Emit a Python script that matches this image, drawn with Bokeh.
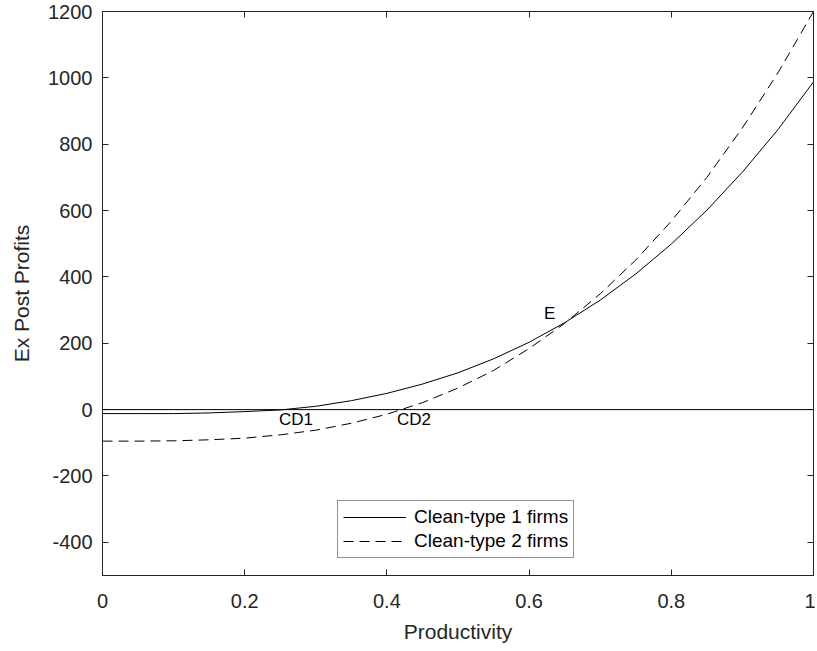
from bokeh.plotting import figure
from bokeh.models import (LinearAxis, FixedTicker, Legend, LegendItem, Range1d,
                          Span, ColumnDataSource, LabelSet)
from bokeh.core.properties import value
from bokeh.embed import file_html
from bokeh.resources import INLINE

# ---- data ----
productivity = [0.0, 0.05, 0.1, 0.15, 0.2, 0.25, 0.3, 0.35, 0.4, 0.45, 0.5,
                0.55, 0.6, 0.65, 0.7, 0.75, 0.8, 0.85, 0.9, 0.95, 1.0]
profits_type1 = [-12, -12, -12, -10, -6, -1, 10, 27, 49, 77, 111,
                 153, 203, 262, 330, 409, 499, 601, 716, 844, 988]
profits_type2 = [-95, -95, -94, -91, -86, -76, -62, -41, -14, 21, 65,
                 118, 184, 260, 349, 451, 568, 700, 849, 1015, 1200]
series_names = ["Clean-type 1 firms", "Clean-type 2 firms"]

x_ticks = [0, 0.2, 0.4, 0.6, 0.8, 1]
x_tick_labels = ["0", "0.2", "0.4", "0.6", "0.8", "1"]
y_ticks = [-400, -200, 0, 200, 400, 600, 800, 1000, 1200]
y_tick_labels = ["-400", "-200", "0", "200", "400", "600", "800", "1000", "1200"]

annot_text = ["E", "CD1", "CD2"]
annot_x = [0.629, 0.272, 0.438]
annot_y = [289, -30, -30]

FONT = "Liberation Sans"
AX = "#262626"

p = figure(frame_width=711, frame_height=564,
           x_range=Range1d(0, 1), y_range=Range1d(-500, 1200),
           output_backend="svg", toolbar_location=None,
           min_border_left=102, min_border_top=11, min_border_right=2,
           min_border_bottom=70, background_fill_color="white",
           border_fill_color="white", outline_line_color=AX)
p.grid.visible = False


def style_axis(ax, labels=True):
    ax.axis_line_color = AX
    ax.axis_line_width = 1
    ax.major_tick_line_color = AX
    ax.major_tick_in = 6
    ax.major_tick_out = 0
    ax.minor_tick_line_color = None
    ax.major_label_text_font = FONT
    ax.major_label_text_color = AX
    ax.axis_label_text_font = FONT
    ax.axis_label_text_color = AX
    ax.axis_label_text_font_style = "normal"
    if not labels:
        ax.major_label_text_color = None
        ax.major_label_text_font_size = "1px"
        ax.major_label_standoff = 0


xa = p.xaxis[0]
ya = p.yaxis[0]
style_axis(xa)
style_axis(ya)
xa.ticker = FixedTicker(ticks=x_ticks)
xa.major_label_overrides = {t: l for t, l in zip(x_ticks, x_tick_labels)}
ya.ticker = FixedTicker(ticks=y_ticks)
ya.major_label_overrides = {t: l for t, l in zip(y_ticks, y_tick_labels)}
xa.major_label_text_font_size = "20px"
ya.major_label_text_font_size = "20px"
xa.major_label_standoff = 18
ya.major_label_standoff = 10
xa.axis_label = "Productivity"
ya.axis_label = "Ex Post Profits"
xa.axis_label_text_font_size = "21px"
ya.axis_label_text_font_size = "21px"
xa.axis_label_standoff = 9
ya.axis_label_standoff = 12

top = LinearAxis(ticker=FixedTicker(ticks=x_ticks))
right = LinearAxis(ticker=FixedTicker(ticks=y_ticks))
style_axis(top, labels=False)
style_axis(right, labels=False)
p.add_layout(top, "above")
p.add_layout(right, "right")

p.add_layout(Span(location=0, dimension="width", line_color="black", line_width=1))

r1 = p.line(productivity, profits_type1, line_color="black", line_width=1)
r2 = p.line(productivity, profits_type2, line_color="black", line_width=1,
            line_dash="10 6")

src = ColumnDataSource(dict(x=annot_x, y=annot_y, t=annot_text))
p.add_layout(LabelSet(x="x", y="y", text="t", source=src, text_font=value(FONT),
                      text_font_size="17px", text_color="black",
                      text_align="center", text_baseline="middle"))

legend = Legend(items=[LegendItem(label=series_names[0], renderers=[r1]),
                       LegendItem(label=series_names[1], renderers=[r2])],
                location=(235, 17))
legend.label_text_font = FONT
legend.label_text_font_size = "19px"
legend.label_text_color = "black"
legend.glyph_width = 63
legend.glyph_height = 20
legend.label_height = 20
legend.label_standoff = 8
legend.spacing = 2
legend.padding = 5
legend.margin = 0
legend.border_line_color = AX
legend.border_line_width = 1
legend.background_fill_color = "white"
legend.background_fill_alpha = 1
p.add_layout(legend)

open("out.html", "w").write(file_html(p, INLINE))
